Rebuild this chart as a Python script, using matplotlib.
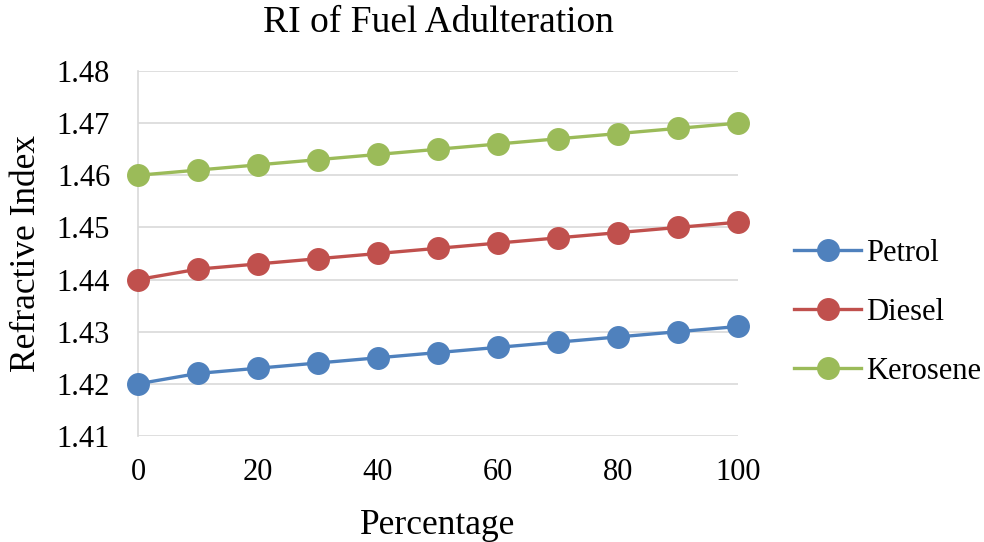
import matplotlib
matplotlib.use("Agg")
import matplotlib.pyplot as plt

percentage = [0, 10, 20, 30, 40, 50, 60, 70, 80, 90, 100]
petrol = [1.420, 1.422, 1.423, 1.424, 1.425, 1.426, 1.427, 1.428, 1.429, 1.430, 1.431]
diesel = [1.440, 1.442, 1.443, 1.444, 1.445, 1.446, 1.447, 1.448, 1.449, 1.450, 1.451]
kerosene = [1.460, 1.461, 1.462, 1.463, 1.464, 1.465, 1.466, 1.467, 1.468, 1.469, 1.470]
yticks = [1.41, 1.42, 1.43, 1.44, 1.45, 1.46, 1.47, 1.48]
xticks = [0, 20, 40, 60, 80, 100]

plt.rcParams['font.family'] = ['Liberation Serif', 'DejaVu Serif']

fig = plt.figure(figsize=(9.84, 5.42), dpi=100)
ax = fig.add_axes([0.1402, 0.1956, 0.6098, 0.6734])

series = [("Petrol", petrol, "#4F81BD"), ("Diesel", diesel, "#C0504D"), ("Kerosene", kerosene, "#9BBB59")]
for name, vals, c in series:
    ax.plot(percentage, vals, color=c, lw=2.4, marker='o', markersize=15.5, label=name,
            zorder=3, clip_on=False)

ax.set_xlim(0, 100)
ax.set_ylim(1.41, 1.48)
ax.set_yticks(yticks)
ax.set_yticklabels([f"{v:.2f}" for v in yticks])
ax.set_xticks(xticks)
ax.grid(axis='y', color='#D9D9D9', lw=1.2)
ax.set_axisbelow(True)
for s in ['top', 'right', 'bottom']:
    ax.spines[s].set_visible(False)
ax.spines['left'].set_color('#D9D9D9')
ax.spines['left'].set_linewidth(1.2)
ax.tick_params(axis='both', length=0, labelsize=22, labelcolor='black')
ax.tick_params(axis='y', pad=20)
ax.tick_params(axis='x', pad=16)

ax.set_title("RI of Fuel Adulteration", fontsize=27, pad=28)
ax.set_xlabel("Percentage", fontsize=25.5, labelpad=16)
ax.set_ylabel("Refractive Index", fontsize=25.5, labelpad=10)

ax.legend(loc='center left', bbox_to_anchor=(1.073, 0.338), frameon=False, fontsize=22,
          handlelength=2.2, labelspacing=0.98, handletextpad=0.15, borderaxespad=0)

fig.savefig("out.png", dpi=100)
